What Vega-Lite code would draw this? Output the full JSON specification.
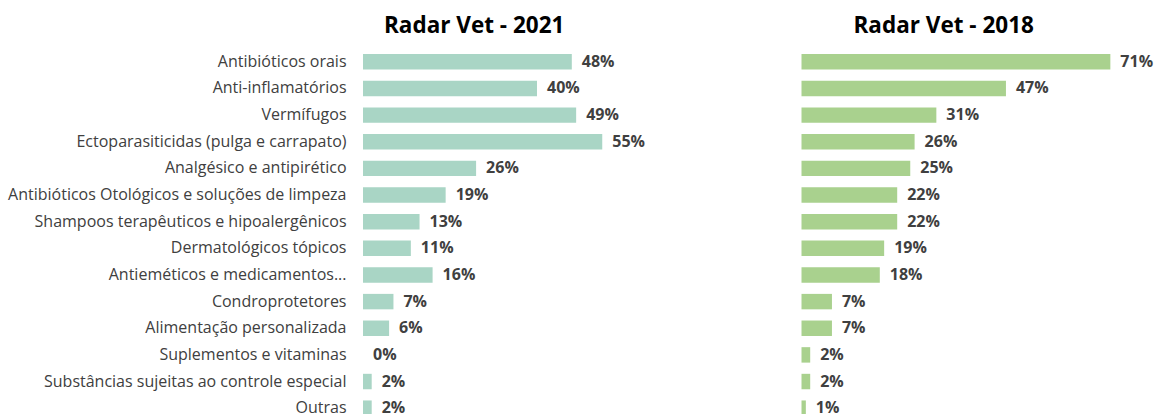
{
  "$schema": "https://vega.github.io/schema/vega-lite/v6.json",
  "background": "white",
  "padding": {"left": 5, "top": 14.5, "right": 0, "bottom": 0},
  "datasets": {
    "radar": [
      {"categoria": "Antibióticos orais", "ano": "2021", "valor": 0.48},
      {"categoria": "Anti-inflamatórios", "ano": "2021", "valor": 0.40},
      {"categoria": "Vermífugos", "ano": "2021", "valor": 0.49},
      {"categoria": "Ectoparasiticidas (pulga e carrapato)", "ano": "2021", "valor": 0.55},
      {"categoria": "Analgésico e antipirético", "ano": "2021", "valor": 0.26},
      {"categoria": "Antibióticos Otológicos e soluções de limpeza", "ano": "2021", "valor": 0.19},
      {"categoria": "Shampoos terapêuticos e hipoalergênicos", "ano": "2021", "valor": 0.13},
      {"categoria": "Dermatológicos tópicos", "ano": "2021", "valor": 0.11},
      {"categoria": "Antieméticos e medicamentos...", "ano": "2021", "valor": 0.16},
      {"categoria": "Condroprotetores", "ano": "2021", "valor": 0.07},
      {"categoria": "Alimentação personalizada", "ano": "2021", "valor": 0.06},
      {"categoria": "Suplementos e vitaminas", "ano": "2021", "valor": 0.0},
      {"categoria": "Substâncias sujeitas ao controle especial", "ano": "2021", "valor": 0.02},
      {"categoria": "Outras", "ano": "2021", "valor": 0.02},
      {"categoria": "Antibióticos orais", "ano": "2018", "valor": 0.71},
      {"categoria": "Anti-inflamatórios", "ano": "2018", "valor": 0.47},
      {"categoria": "Vermífugos", "ano": "2018", "valor": 0.31},
      {"categoria": "Ectoparasiticidas (pulga e carrapato)", "ano": "2018", "valor": 0.26},
      {"categoria": "Analgésico e antipirético", "ano": "2018", "valor": 0.25},
      {"categoria": "Antibióticos Otológicos e soluções de limpeza", "ano": "2018", "valor": 0.22},
      {"categoria": "Shampoos terapêuticos e hipoalergênicos", "ano": "2018", "valor": 0.22},
      {"categoria": "Dermatológicos tópicos", "ano": "2018", "valor": 0.19},
      {"categoria": "Antieméticos e medicamentos...", "ano": "2018", "valor": 0.18},
      {"categoria": "Condroprotetores", "ano": "2018", "valor": 0.07},
      {"categoria": "Alimentação personalizada", "ano": "2018", "valor": 0.07},
      {"categoria": "Suplementos e vitaminas", "ano": "2018", "valor": 0.02},
      {"categoria": "Substâncias sujeitas ao controle especial", "ano": "2018", "valor": 0.02},
      {"categoria": "Outras", "ano": "2018", "valor": 0.01}
    ]
  },
  "data": {"name": "radar"},
  "spacing": 133.5,
  "config": {
    "view": {"stroke": null},
    "title": {"font": "Open Sans", "fontWeight": "bold", "fontSize": 22.5, "color": "#000000", "anchor": "start", "frame": "group", "baseline": "alphabetic", "offset": 11.5}
  },
  "hconcat": [
    {
      "title": {"text": "Radar Vet - 2021", "dx": 21},
      "width": 304.5,
      "height": 373,
      "transform": [{"filter": "datum.ano === '2021'"}],
      "encoding": {
        "y": {"field": "categoria", "type": "nominal", "sort": null,
              "scale": {"paddingInner": 0.42, "paddingOuter": 0.21},
              "axis": {"title": null, "domain": false, "ticks": false, "labelPadding": 17, "labelFont": "Open Sans", "labelFontSize": 16, "labelColor": "#404040", "labelLimit": 400, "minExtent": 358, "maxExtent": 358}},
        "x": {"field": "valor", "type": "quantitative", "scale": {"domain": [0, 0.70]}, "axis": null}
      },
      "layer": [
        {"mark": {"type": "bar", "color": "#A9D5C5"}},
        {"mark": {"type": "text", "align": "left", "baseline": "middle", "dx": 10, "font": "Open Sans", "fontWeight": "bold", "fontSize": 16, "color": "#404040"},
         "encoding": {"text": {"field": "valor", "type": "quantitative", "format": ".0%"}}}
      ]
    },
    {
      "title": {"text": "Radar Vet - 2018", "dx": 52},
      "width": 348,
      "height": 373,
      "transform": [{"filter": "datum.ano === '2018'"}],
      "encoding": {
        "y": {"field": "categoria", "type": "nominal", "sort": null,
              "scale": {"paddingInner": 0.42, "paddingOuter": 0.21}, "axis": null},
        "x": {"field": "valor", "type": "quantitative", "scale": {"domain": [0, 0.80]}, "axis": null}
      },
      "layer": [
        {"mark": {"type": "bar", "color": "#A9D18E"}},
        {"mark": {"type": "text", "align": "left", "baseline": "middle", "dx": 10, "font": "Open Sans", "fontWeight": "bold", "fontSize": 16, "color": "#404040"},
         "encoding": {"text": {"field": "valor", "type": "quantitative", "format": ".0%"}}}
      ]
    }
  ],
  "resolve": {"scale": {"x": "independent", "y": "independent"}}
}
